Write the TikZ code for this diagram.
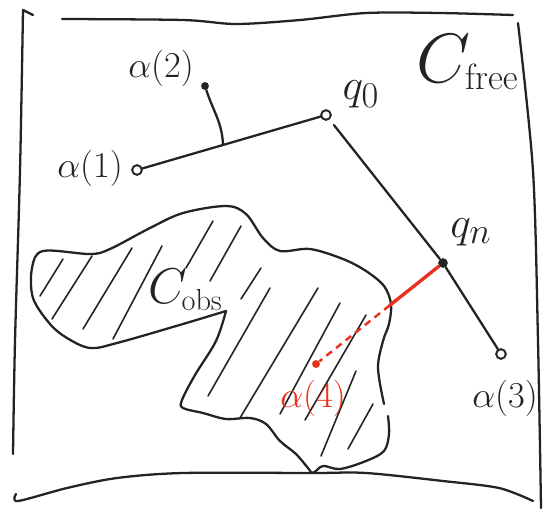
\documentclass[tikz,border=0pt]{standalone}
\usetikzlibrary{calc}
\definecolor{ink}{RGB}{35,35,35}
\definecolor{redink}{RGB}{232,50,30}

\begin{document}
\begin{tikzpicture}[x=0.02cm,y=-0.02cm,
  pen/.style={line width=1.3pt,draw=ink,line cap=round,line join=round},
  hatch/.style={line width=0.9pt,draw=ink,line cap=round},
  opendot/.style={circle,draw=ink,line width=1.1pt,fill=white,inner sep=0pt,minimum size=5.5pt},
  fulldot/.style={circle,fill=ink,inner sep=0pt,minimum size=5.5pt},
  reddot/.style={circle,fill=redink,inner sep=0pt,minimum size=4.5pt},
  lbl/.style={font=\huge,text=ink,inner sep=0pt}]
\useasboundingbox (0,0) rectangle (548,511);
\draw[pen] (33,15) -- (23,10) plot[smooth] coordinates {(23,10) (20,171) (15,341) (13,454)};
\draw[pen] plot[smooth] coordinates {(62,19) (183,20) (236,24) (300,20) (366,13) (440,13) (513,15)};
\draw[pen] plot[smooth] coordinates {(518,23) (533,171) (538,341) (541,508)};
\draw[pen] plot[smooth] coordinates {(16,494) (18,501) (67,488) (117,478) (183,473) (313,473) (366,473) (443,481) (499,488) (533,501)};
\draw[pen] plot[smooth,tension=0.55] coordinates {(388,416) (389,434) (384,451) (366,461) (340,469) (323,466) (313,473) (308,468) (296,454) (280,441) (266,424) (250,418) (226,419) (203,413) (183,408) (182,400) (195,375) (216,341) (226,311)};
\draw[pen] plot[smooth,tension=0.55] coordinates {(226,311) (183,324) (117,343) (90,348) (67,338) (50,324) (33,298) (32,268) (43,251) (90,254) (110,249) (150,228) (183,213) (226,206) (246,214) (263,238) (280,251) (310,249) (343,259) (366,271) (384,286) (391,304) (389,324) (383,341) (378,368) (384,404)};
\draw[hatch] (40,296) -- (63,259);
\draw[hatch] (52,319) -- (92,256);
\draw[hatch] (83,329) -- (132,248);
\draw[hatch] (113,339) -- (162,246);
\draw[hatch] (186,268) -- (213,221);
\draw[hatch] (210,281) -- (241,226);
\draw[hatch] (241,299) -- (261,268);
\draw[hatch] (208,396) -- (270,288);
\draw[hatch] (240,418) -- (318,288);
\draw[hatch] (280,414) -- (340,303);
\draw[hatch] (305,420) -- (366,315);
\draw[hatch] (321,456) -- (356,371);
\draw[hatch] (348,449) -- (373,404);
\node[opendot] (a1) at (137,170) {};
\node[opendot] (q0) at (326,115) {};
\node[fulldot,minimum size=4.5pt] (a2) at (205,86) {};
\node[fulldot] (qn) at (443,263) {};
\node[opendot] (a3) at (501,354) {};
\node[reddot] (a4) at (316,364) {};
\coordinate (jn) at ($(a1)!0.455!(q0)$);
\coordinate (hit) at ($(qn)!0.42!(a4)$);
\draw[pen] (a1) -- (q0);
\draw[pen] (a2) to[out=-72,in=92] (jn);
\draw[pen,shorten <=4pt] (q0) -- (qn);
\draw[pen] (qn) -- (a3);
\draw[redink,line width=1.9pt,line cap=round] (qn) -- (hit);
\draw[redink,line width=1.4pt,dash pattern=on 4pt off 3pt] (hit) -- (a4);
\node[lbl] (a1lbl) at (90,168) {$\alpha(1)$};
\node[lbl] (a2lbl) at (161,68) {$\alpha(2)$};
\node[lbl] (a3lbl) at (505,398) {$\alpha(3)$};
\node[lbl,text=redink] (a4lbl) at (313,398) {$\alpha(4)$};
\node[lbl,font=\Huge] (q0lbl) at (361,94) {$q_0$};
\node[lbl,font=\Huge] (qnlbl) at (471,232) {$q_n$};
\node[text=ink,inner sep=0pt] (cfree) at (467,62) {\scalebox{1.6}{\Huge$C$}\kern-3pt\raisebox{-4pt}{\huge$\mathrm{free}$}};
\node[text=ink,inner sep=0pt] (cobs) at (185,290) {\scalebox{1.15}{\Huge$C$}\kern-3pt\raisebox{-4pt}{\LARGE$\mathrm{obs}$}};
\end{tikzpicture}
\end{document}
